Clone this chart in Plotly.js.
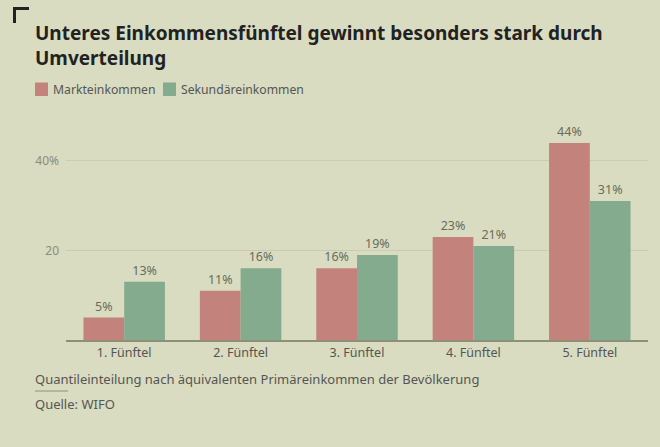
<!DOCTYPE html>
<html>
<head>
<meta charset="utf-8">
<script src="https://cdn.plot.ly/plotly-3.0.1.min.js"></script>
<style>html,body{margin:0;padding:0;background:#d9dcc0;}#chart{width:660px;height:447px;}</style>
</head>
<body>
<div id="chart"></div>
<script>
const categories = ["1. Fünftel", "2. Fünftel", "3. Fünftel", "4. Fünftel", "5. Fünftel"];
const marktValues = [5, 11, 16, 23, 44];
const sekundaerValues = [13, 16, 19, 21, 31];
const seriesNames = ["Markteinkommen", "Sekundäreinkommen"];
const seriesColors = ["#c4827c", "#84ab8e"];
const tickVals = [20, 40];
const tickText = ["20", "40%"];

const W = 660, H = 447;
const L = 66, R = 12, T = 116, B = 107;
const pw = W - L - R, ph = H - T - B;
const px = x => (x - L) / pw;
const py = y => (H - B - y) / ph;

const font = "Noto Sans, Open Sans, sans-serif";
const traces = [
  {type: "bar", name: seriesNames[0], x: categories, y: marktValues,
   marker: {color: seriesColors[0]}, texttemplate: "%{y}%", textposition: "outside",
   textfont: {color: "#6a6d5c", size: 12.5, family: font}, cliponaxis: false},
  {type: "bar", name: seriesNames[1], x: categories, y: sekundaerValues,
   marker: {color: seriesColors[1]}, texttemplate: "%{y}%", textposition: "outside",
   textfont: {color: "#6a6d5c", size: 12.5, family: font}, cliponaxis: false}
];

// legend drawn manually (swatch + label)
const legendX = [35, 163];
const legendShapes = seriesNames.map((n, i) => ({
  type: "rect", xref: "paper", yref: "paper",
  x0: px(legendX[i]), x1: px(legendX[i] + 13), y0: py(82.5), y1: py(96),
  fillcolor: seriesColors[i], line: {width: 0}
}));
const legendAnns = seriesNames.map((n, i) => ({
  text: n, xref: "paper", yref: "paper", x: px(legendX[i] + 16), y: py(89.5),
  xanchor: "left", yanchor: "middle", showarrow: false,
  font: {size: 12.2, color: "#555", family: font}
}));

const layout = {
  width: W, height: H,
  paper_bgcolor: "#d9dcc0", plot_bgcolor: "#d9dcc0",
  margin: {l: L, r: R, t: T, b: B},
  font: {family: font, color: "#555"},
  barmode: "group", bargap: 0.3, bargroupgap: 0,
  showlegend: false,
  xaxis: {showgrid: false, showline: true, linecolor: "#8d9077", linewidth: 1.5,
    tickfont: {size: 12.5, color: "#555", family: font}, ticks: "", fixedrange: true},
  yaxis: {range: [0, 50], tickvals: tickVals, ticktext: tickText,
    showgrid: true, gridcolor: "#c9ccb0", gridwidth: 1, zeroline: false,
    tickfont: {size: 12, color: "#8a8d78", family: font}, ticks: "", ticklabelstandoff: 6},
  annotations: [
    {text: "<b>Unteres Einkommensfünftel gewinnt besonders stark durch<br>Umverteilung</b>",
     xref: "paper", yref: "paper", x: px(33), y: py(18), xanchor: "left", yanchor: "top",
     align: "left", showarrow: false, font: {size: 19, color: "#222", family: font}},
    {text: "Quantileinteilung nach äquivalenten Primäreinkommen der Bevölkerung",
     xref: "paper", yref: "paper", x: px(33), y: py(379), xanchor: "left", yanchor: "middle",
     showarrow: false, font: {size: 13, color: "#555", family: font}},
    {text: "Quelle: WIFO",
     xref: "paper", yref: "paper", x: px(33), y: py(404), xanchor: "left", yanchor: "middle",
     showarrow: false, font: {size: 13, color: "#555", family: font}}
  ].concat(legendAnns),
  shapes: [
    {type: "line", xref: "paper", yref: "paper", x0: px(35), x1: px(68), y0: py(391), y1: py(391),
     line: {color: "#8d9077", width: 1}},
    {type: "path", xref: "paper", yref: "paper",
     path: `M ${px(14.5)} ${py(23)} L ${px(14.5)} ${py(8.5)} L ${px(29)} ${py(8.5)}`,
     line: {color: "#222", width: 3}}
  ].concat(legendShapes)
};

Plotly.newPlot("chart", traces, layout, {displayModeBar: false, staticPlot: true});
</script>
</body>
</html>
